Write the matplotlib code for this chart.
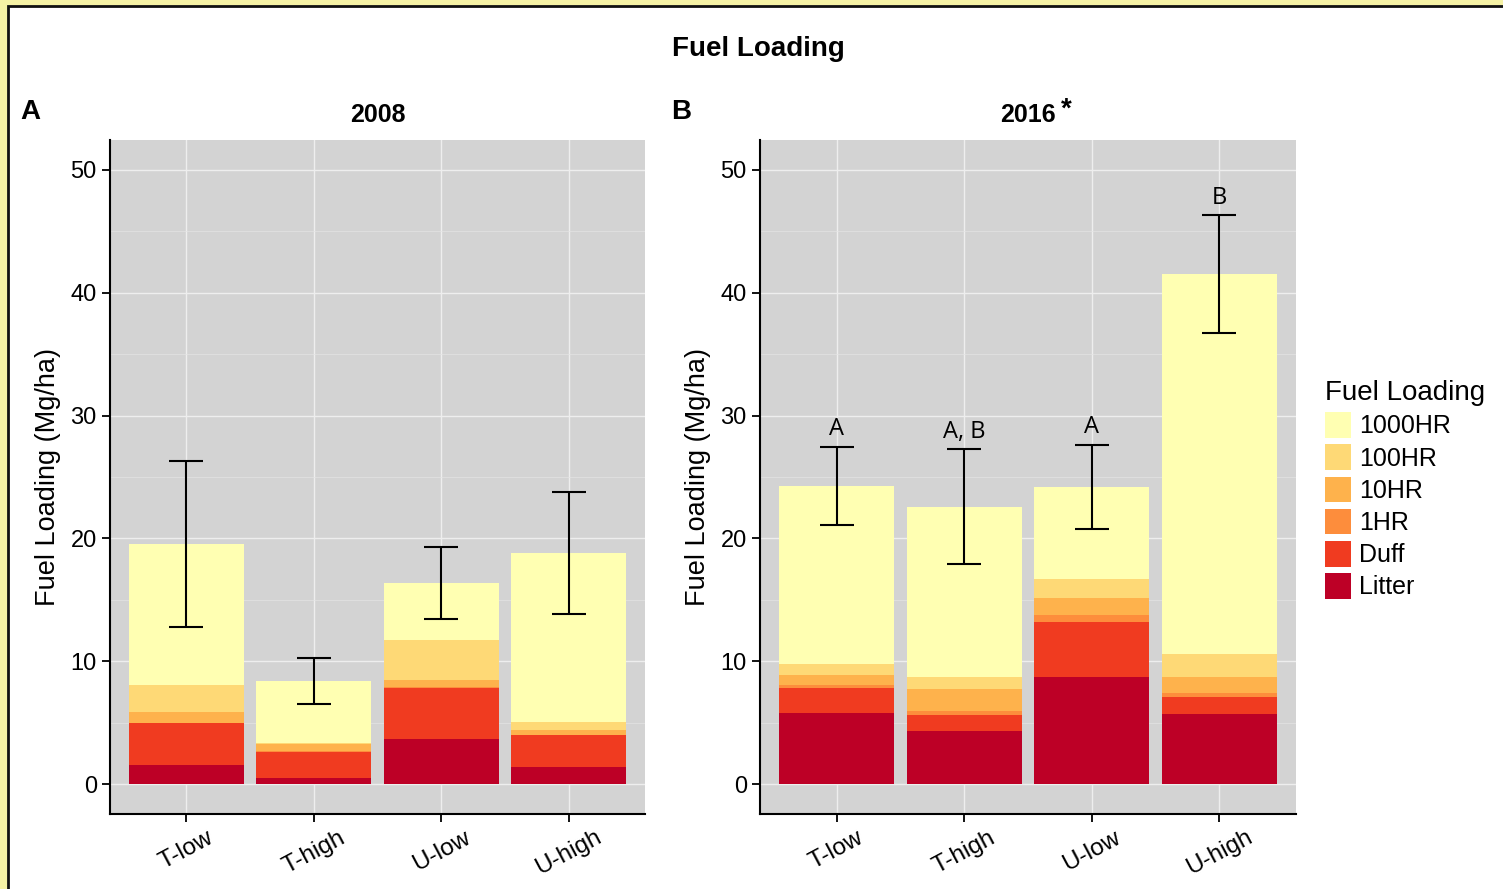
import matplotlib
matplotlib.use("Agg")
import matplotlib.pyplot as plt
import numpy as np
from matplotlib.patches import Rectangle, Patch

plt.rcParams["font.family"] = ["Liberation Sans", "DejaVu Sans"]

sites = ["T-low", "T-high", "U-low", "U-high"]
classes = ["Litter", "Duff", "1HR", "10HR", "100HR", "1000HR"]
class_colors = ["#BD0026", "#F03B20", "#FD8D3C", "#FEB24C", "#FED976", "#FFFFB2"]

# Fuel loading by class (Mg/ha), one list per class in site order
load_2008 = {
    "Litter": [1.55, 0.51, 3.64, 1.36],
    "Duff":   [3.39, 2.12, 4.18, 2.60],
    "1HR":    [0.05, 0.05, 0.05, 0.05],
    "10HR":   [0.87, 0.58, 0.60, 0.36],
    "100HR":  [2.18, 0.05, 3.26, 0.70],
    "1000HR": [11.51, 5.08, 4.64, 13.74],
}
load_2016 = {
    "Litter": [5.81, 4.32, 8.74, 5.73],
    "Duff":   [2.03, 1.33, 4.45, 1.33],
    "1HR":    [0.20, 0.32, 0.57, 0.32],
    "10HR":   [0.86, 1.77, 1.36, 1.33],
    "100HR":  [0.85, 0.95, 1.55, 1.90],
    "1000HR": [14.52, 13.87, 7.52, 30.92],
}
# Standard error of total loading
err_2008 = [6.75, 1.90, 2.93, 5.00]
err_2016 = [3.20, 4.68, 3.45, 4.77]
letters_2016 = ["A", "A, B", "A", "B"]

W, H = 1503, 889
fig = plt.figure(figsize=(W / 100, H / 100), dpi=100)
fig.patch.set_facecolor("#F5F2A5")
# white page with dark frame, kept behind everything else
fig.patches.append(Rectangle((8 / W, -0.05), 1.1, 1 - 6 / H + 0.05,
                             transform=fig.transFigure, facecolor="white",
                             edgecolor="#111111", linewidth=2.0, zorder=-10))

panel_bg = "#D3D3D3"


def draw_panel(ax, loads, errs, year_title, letters=None):
    ax.set_facecolor(panel_bg)
    x = np.arange(1, len(sites) + 1)
    bottom = np.zeros(len(sites))
    for cls, col in zip(classes, class_colors):
        vals = np.array(loads[cls])
        ax.bar(x, vals, width=0.9, bottom=bottom, color=col,
               edgecolor="none", zorder=2)
        bottom = bottom + vals
    totals = bottom
    ax.errorbar(x, totals, yerr=errs, fmt="none", ecolor="black",
                elinewidth=1.5, capsize=12, capthick=1.5, zorder=3)
    if letters is not None:
        for xi, t, e, lab in zip(x, totals, errs, letters):
            ax.annotate(lab, (xi, t + e), xytext=(0, 4),
                        textcoords="offset points", ha="center", va="bottom",
                        fontsize=17, family=["Open Sans", "DejaVu Sans"],
                        zorder=4)
    ax.set_xlim(0.4, 4.6)
    ax.set_ylim(-2.44, 52.44)
    ax.set_yticks([0, 10, 20, 30, 40, 50])
    ax.set_yticks([5, 15, 25, 35, 45], minor=True)
    ax.set_xticks(x)
    ax.set_xticklabels(sites, rotation=28, ha="center", fontsize=17.5)
    ax.tick_params(axis="y", labelsize=17, length=6, width=1.3, color="black")
    ax.tick_params(axis="x", length=6, width=1.3, color="black", pad=3)
    ax.tick_params(axis="y", which="minor", length=0)
    ax.grid(True, which="major", color="#EEEEEE", linewidth=1.0, zorder=0)
    ax.grid(True, which="minor", axis="y", color="#E4E4E4", linewidth=0.5, zorder=0)
    ax.set_axisbelow(True)
    for side in ("top", "right"):
        ax.spines[side].set_visible(False)
    for side in ("left", "bottom"):
        ax.spines[side].set_color("black")
        ax.spines[side].set_linewidth(1.5)
    ax.set_ylabel("Fuel Loading (Mg/ha)", fontsize=19.5, labelpad=7)
    ax.set_title(year_title, fontsize=18, fontweight="bold", pad=13)


ax_a = fig.add_axes([110 / W, 1 - 814 / H, 535 / W, 674 / H])
ax_b = fig.add_axes([760 / W, 1 - 814 / H, 536 / W, 674 / H])
draw_panel(ax_a, load_2008, err_2008, "2008")
draw_panel(ax_b, load_2016, err_2016, "2016", letters_2016)
# significance marker next to the 2016 panel title
fig.text(1066 / W, 1 - 110 / H, "*", fontsize=20, fontweight="bold",
         ha="center", va="center")

fig.text(758 / W, 1 - 49 / H, "Fuel Loading", fontsize=20, fontweight="bold",
         ha="center", va="center")
fig.text(30 / W, 1 - 112 / H, "A", fontsize=20, fontweight="bold",
         ha="center", va="center")
fig.text(681 / W, 1 - 112 / H, "B", fontsize=20, fontweight="bold",
         ha="center", va="center")

handles = [Patch(facecolor=c, edgecolor="none")
           for c in reversed(class_colors)]
leg = fig.legend(handles, list(reversed(classes)), title="Fuel Loading",
                 loc="upper left", bbox_to_anchor=(1315 / W, 1 - 370 / H),
                 frameon=False, fontsize=18, title_fontsize=20,
                 handlelength=1.05, handleheight=1.2, labelspacing=0.24,
                 handletextpad=0.3, borderaxespad=0)
leg._legend_box.align = "left"

fig.savefig("out.png", dpi=100)
